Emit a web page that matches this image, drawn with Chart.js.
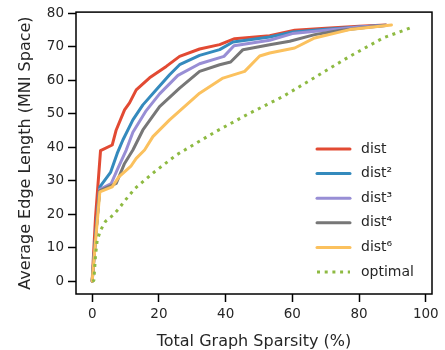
<!DOCTYPE html>
<html>
<head>
<meta charset="utf-8">
<script src="https://cdn.jsdelivr.net/npm/chart.js@4.4.1/dist/chart.umd.min.js"></script>
<style>
  html, body { margin: 0; padding: 0; background: #fff; }
  #wrap { width: 445px; height: 350px; }
</style>
</head>
<body>
<div id="wrap"><canvas id="edgechart"></canvas></div>
<script>
// values (sparsity %, mean edge length)
var distX = [0, 0.3, 1, 2.5, 6, 7.2, 9.7, 11.2, 13.2, 17.2, 22.2, 26.2, 32.2, 38.2, 42.7, 53.2, 60.7, 70, 80, 88];
var distY = [0, 6, 19, 39, 40.7, 45.2, 51.2, 53.3, 57.2, 60.8, 64.2, 67.2, 69.4, 70.7, 72.5, 73.4, 75.0, 75.6, 76.2, 76.6];

var dist2X = [0, 1, 2.3, 5.5, 7.5, 9.2, 12.2, 15.2, 19.2, 23.2, 26.2, 32.2, 38.2, 42.2, 53.2, 60.2, 70, 80, 88];
var dist2Y = [0, 13, 28.2, 32.5, 38.2, 42.2, 48.2, 52.7, 57.2, 61.7, 64.7, 67.5, 69.2, 71.5, 73, 74.5, 75.3, 76, 76.5];

var dist3X = [0, 1, 2.2, 5.7, 7.7, 10.2, 12.2, 16.2, 20.2, 25.7, 32.2, 39.5, 42.5, 53.2, 60, 70, 80, 88];
var dist3Y = [0, 13, 27.4, 29.2, 33.7, 39.2, 44.5, 51.0, 56.0, 61.5, 65.0, 67.2, 70.4, 72, 74, 75, 76, 76.4];

var dist4X = [0, 1, 2.2, 7.2, 9.7, 12.2, 15.2, 20.2, 26.2, 32.2, 38.2, 41.5, 45.2, 53.2, 59.2, 66.7, 74.2, 82, 88];
var dist4Y = [0, 13, 27, 29.2, 35.2, 39.2, 45.2, 52.2, 57.7, 62.7, 64.7, 65.5, 69.2, 70.7, 71.7, 73.7, 74.9, 75.8, 76.4];

var dist6X = [0, 1, 2.3, 6, 8, 11.7, 13.2, 15.7, 18.2, 23.2, 32.2, 39.2, 45.7, 50.2, 53.2, 60.7, 66.7, 77.2, 89.7];
var dist6Y = [0, 12, 26.7, 28.2, 31.2, 34.5, 36.7, 39.2, 43.2, 48.2, 56.2, 60.7, 62.7, 67.3, 68.2, 69.7, 72.7, 75.2, 76.6];

var optimalX = [0, 0.5, 1, 1.5, 2.5, 4, 6.2, 8, 9.5, 12.8, 18.7, 25.2, 27.2, 37, 47.2, 50.2, 57.2, 67.2, 77.2, 87.2, 95.9];
var optimalY = [0, 0.2, 7.7, 12.2, 15.2, 17.9, 19.7, 21.7, 23.7, 27.7, 32.7, 37.7, 38.9, 44.7, 50.2, 51.7, 55.2, 61.2, 67.2, 72.7, 75.9];

var seriesLabels = ["dist", "dist\u00B2", "dist\u00B3", "dist\u2074", "dist\u2076", "optimal"];
var xTicks = [0, 20, 40, 60, 80, 100];
var yTicks = [0, 10, 20, 30, 40, 50, 60, 70, 80];

var lineColors = ["#E24A33", "#348ABD", "#988ED5", "#777777", "#FBC15E", "#8EBA42"];
var txtColor = "#262626";
var fontFam = "'DejaVu Sans', sans-serif";

function pts(xs, ys) {
  return xs.map(function (x, i) { return { x: x, y: ys[i] }; });
}

var allX = [distX, dist2X, dist3X, dist4X, dist6X, optimalX];
var allY = [distY, dist2Y, dist3Y, dist4Y, dist6Y, optimalY];

var datasets = [];
for (var i = 0; i < seriesLabels.length; i++) {
  var dotted = (i === 5);
  datasets.push({
    label: seriesLabels[i],
    data: pts(allX[i], allY[i]),
    borderColor: lineColors[i],
    backgroundColor: lineColors[i],
    borderWidth: 3,
    borderDash: dotted ? [3, 4.7] : [],
    borderCapStyle: dotted ? "butt" : "round",
    borderJoinStyle: "round",
    pointRadius: 0,
    tension: 0,
    fill: false,
    showLine: true,
    order: seriesLabels.length - i   // later series on top, like matplotlib
  });
}

// box around the axes + legend in the lower right
var frameAndLegend = {
  id: "frameAndLegend",
  afterDatasetsDraw: function (chart) {
    var ctx = chart.ctx;
    var a = chart.chartArea;
    ctx.save();
    ctx.strokeStyle = "#000";
    ctx.lineWidth = 1.5;
    ctx.strokeRect(a.left, a.top, a.right - a.left, a.bottom - a.top);

    var x0 = a.right - 115;
    var y0 = a.bottom - 145;
    var rowH = 24.6;
    ctx.font = "14px " + fontFam;
    ctx.textBaseline = "middle";
    ctx.textAlign = "left";
    chart.data.datasets.forEach(function (ds, k) {
      var y = y0 + k * rowH;
      ctx.beginPath();
      ctx.strokeStyle = ds.borderColor;
      ctx.lineWidth = ds.borderWidth;
      ctx.lineCap = ds.borderCapStyle;
      ctx.setLineDash(ds.borderDash);
      ctx.moveTo(x0, y);
      ctx.lineTo(x0 + 33, y);
      ctx.stroke();
      ctx.setLineDash([]);
      ctx.fillStyle = txtColor;
      ctx.fillText(ds.label, x0 + 44, y);
    });
    ctx.restore();
  }
};

var ctx = document.getElementById("edgechart");

var edgeChart = new Chart(ctx, {
  type: "scatter",
  data: { datasets: datasets },
  options: {
    responsive: true,
    maintainAspectRatio: false,
    animation: false,
    layout: { padding: { left: 0, top: 12, right: 13, bottom: 0 } },
    plugins: {
      legend: { display: false },
      tooltip: { enabled: false }
    },
    scales: {
      x: {
        type: "linear",
        min: -4.85,
        max: 101.85,
        afterBuildTicks: function (scale) {
          scale.ticks = xTicks.map(function (v) { return { value: v }; });
        },
        afterFit: function (scale) { scale.height = 56; },
        border: { display: false },
        grid: {
          drawOnChartArea: false,
          drawTicks: true,
          tickLength: 8,
          tickWidth: 1.5,
          tickColor: "#000"
        },
        ticks: {
          padding: 4,
          color: txtColor,
          font: { family: fontFam, size: 13.5 },
          maxRotation: 0
        },
        title: {
          display: true,
          text: "Total Graph Sparsity (%)",
          color: txtColor,
          font: { family: fontFam, size: 16, lineHeight: 1 },
          padding: { top: 0, bottom: 0 }
        }
      },
      y: {
        type: "linear",
        min: -3.83,
        max: 80.43,
        afterBuildTicks: function (scale) {
          scale.ticks = yTicks.map(function (v) { return { value: v }; });
        },
        afterFit: function (scale) { scale.width = 76; },
        border: { display: false },
        grid: {
          drawOnChartArea: false,
          drawTicks: true,
          tickLength: 8,
          tickWidth: 1.5,
          tickColor: "#000"
        },
        ticks: {
          padding: 4,
          color: txtColor,
          font: { family: fontFam, size: 13.5 }
        },
        title: {
          display: true,
          text: "Average Edge Length (MNI Space)",
          color: txtColor,
          font: { family: fontFam, size: 16, lineHeight: 1 },
          padding: { top: 18, bottom: 0 }
        }
      }
    }
  },
  plugins: [frameAndLegend]
});
</script>
</body>
</html>
